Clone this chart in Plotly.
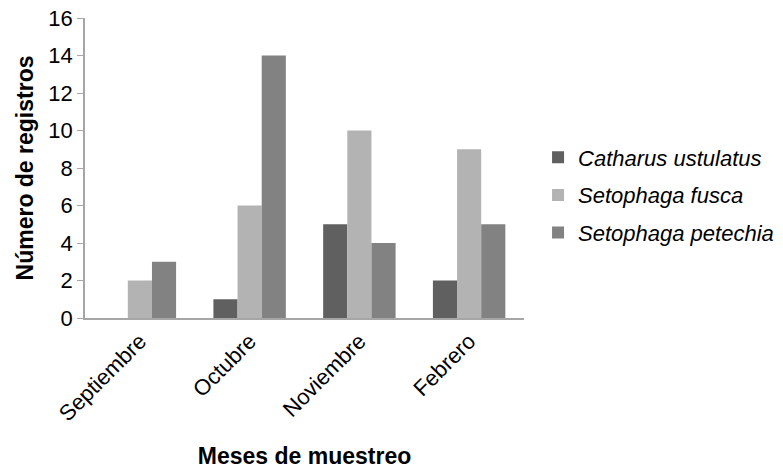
import plotly.graph_objects as go

months = ["Septiembre", "Octubre", "Noviembre", "Febrero"]
series_names = ["Catharus ustulatus", "Setophaga fusca", "Setophaga petechia"]
catharus = [0, 1, 5, 2]
fusca = [2, 6, 10, 9]
petechia = [3, 14, 4, 5]
colors = ["#606060", "#b3b3b3", "#828282"]
y_ticks = [0, 2, 4, 6, 8, 10, 12, 14, 16]

fig = go.Figure()
for i, (name, vals, col) in enumerate(zip(series_names, [catharus, fusca, petechia], colors)):
    fig.add_trace(go.Bar(
        x=months, y=vals, name=name, legendgroup=f"g{i}",
        marker=dict(color=col, line=dict(width=0)),
    ))

font_main = "Liberation Sans, Arial, sans-serif"
fig.update_layout(
    width=783, height=469,
    margin=dict(l=85, r=259, t=18, b=151, autoexpand=False),
    paper_bgcolor="white", plot_bgcolor="white",
    barmode="group", bargap=0.34, bargroupgap=0,
    font=dict(family=font_main, color="#000000", size=22),
    legend=dict(
        x=1.032, xanchor="left", y=0.41, yanchor="middle",
        font=dict(size=22, family=font_main, style="italic"),
        tracegroupgap=6, itemwidth=30, traceorder="grouped",
    ),
    showlegend=True,
)
fig.update_xaxes(
    showline=True, linecolor="#a6a6a6", linewidth=1.5,
    ticks="", tickangle=-45, tickfont=dict(size=22), automargin=False,
    title=dict(text="<b>Meses de muestreo</b>", font=dict(size=23), standoff=26),
    showgrid=False,
)
fig.update_yaxes(
    range=[0, 16], tickvals=y_ticks, ticktext=[str(v) for v in y_ticks],
    showline=True, linecolor="#a6a6a6", linewidth=1.5,
    ticks="outside", ticklen=6, tickcolor="#a6a6a6", automargin=False,
    tickfont=dict(size=22), ticklabeloverflow="allow",
    title=dict(text="<b>Número de registros</b>", font=dict(size=23), standoff=8),
    showgrid=False, zeroline=False,
)

fig.write_html("out.html", config={"displayModeBar": False},
               post_script="document.body.style.margin='0';")
